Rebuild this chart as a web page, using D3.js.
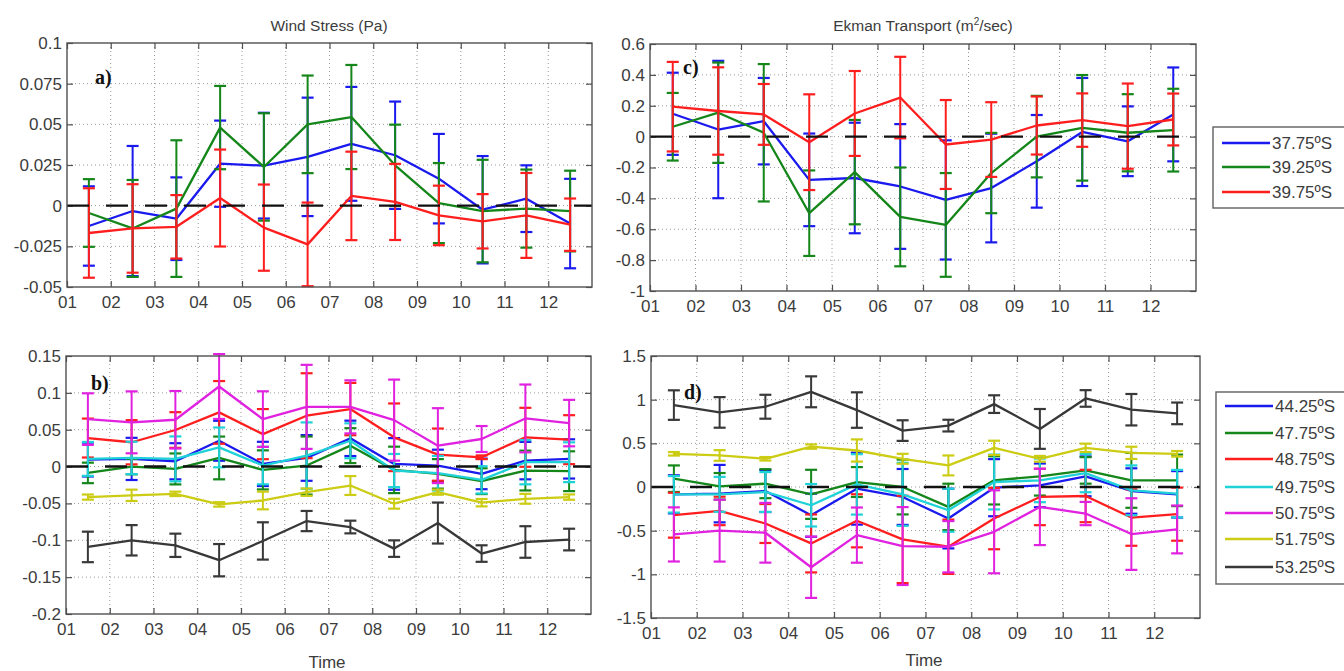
<!DOCTYPE html>
<html><head><meta charset="utf-8">
<script src="https://cdn.jsdelivr.net/npm/d3@7/dist/d3.min.js"></script>
<style>
body{margin:0;background:#fff;}
text{font-family:"Liberation Sans",Arial,sans-serif;fill:#3c3c3c;}
</style>
</head><body>
<svg id="chart" width="1344" height="671"></svg>
<script>
// ---------------- DATA ----------------
const months = ["01","02","03","04","05","06","07","08","09","10","11","12"];
const monthMid = [1.5,2.5,3.5,4.5,5.5,6.5,7.5,8.5,9.5,10.5,11.5,12.5];

const latTop = ["37.75ºS","39.25ºS","39.75ºS"];
const latBottom = ["44.25ºS","47.75ºS","48.75ºS","49.75ºS","50.75ºS","51.75ºS","53.25ºS"];

const colorsTop = ["#1a1aee","#14861a","#ff1e1e"];
const colorsBottom = ["#1a1aee","#14861a","#ff1e1e","#1ed2d8","#e022e0","#cccc14","#383838"];

// a) Wind stress (Pa), northern latitudes
const ws3775 = [-0.0125,-0.0033,-0.008,0.0258,0.0246,0.030,0.038,0.031,0.0166,-0.0025,0.0043,-0.011];
const ws3775Err = [0.0244,0.040,0.0254,0.0265,0.0325,0.0364,0.035,0.033,0.0275,0.033,0.0205,0.0275];
const ws3925 = [-0.0045,-0.014,-0.0018,0.048,0.0238,0.050,0.0545,0.0248,0.0016,-0.0033,-0.0018,-0.0033];
const ws3925Err = [0.0208,0.0298,0.042,0.0256,0.033,0.030,0.032,0.025,0.0246,0.0315,0.024,0.0248];
const ws3975 = [-0.0168,-0.014,-0.013,0.0047,-0.0135,-0.0238,0.006,0.0023,-0.006,-0.0096,-0.006,-0.0117];
const ws3975Err = [0.0275,0.0272,0.0195,0.0298,0.0265,0.0257,0.0272,0.0234,0.0183,0.0167,0.0261,0.0161];

// c) Ekman transport (m2/sec), northern latitudes
const ek3775 = [0.148,0.046,0.10,-0.28,-0.268,-0.323,-0.41,-0.333,-0.16,0.03,-0.03,0.144];
const ek3775Err = [0.266,0.445,0.28,0.30,0.358,0.404,0.386,0.352,0.30,0.35,0.226,0.304];
const ek3925 = [0.064,0.155,0.025,-0.496,-0.23,-0.52,-0.572,-0.236,0.0,0.057,0.025,0.042];
const ek3925Err = [0.219,0.325,0.445,0.277,0.338,0.32,0.336,0.26,0.264,0.342,0.25,0.268];
const ek3975 = [0.194,0.166,0.144,-0.036,0.15,0.253,-0.051,-0.019,0.072,0.107,0.068,0.111];
const ek3975Err = [0.29,0.283,0.197,0.31,0.275,0.264,0.288,0.242,0.188,0.173,0.276,0.168];

// b) Wind stress (Pa), southern latitudes
const ws4425 = [0.0095,0.0104,0.0072,0.035,0.0036,0.0117,0.0383,0.0036,0.0014,-0.0099,0.0081,0.0104];
const ws4425Err = [0.023,0.0286,0.0245,0.0271,0.030,0.031,0.024,0.035,0.0215,0.0208,0.0254,0.0266];
const ws4775 = [-0.0086,0.0,-0.0032,0.0117,-0.0045,0.0014,0.0284,-0.0045,-0.0099,-0.0198,-0.0054,-0.0063];
const ws4775Err = [0.0139,0.0105,0.021,0.029,0.0265,0.0394,0.0237,0.0315,0.020,0.0175,0.027,0.027];
const ws4875 = [0.0387,0.033,0.0496,0.0735,0.044,0.069,0.078,0.0397,0.0162,0.0126,0.0397,0.0365];
const ws4875Err = [0.0264,0.030,0.0242,0.0425,0.034,0.0576,0.0355,0.0459,0.0354,0.0025,0.040,0.0332];
const ws4975 = [0.0104,0.0117,0.0104,0.026,0.0014,0.0149,0.035,-0.0054,-0.009,-0.018,0.0059,0.0059];
const ws4975Err = [0.023,0.022,0.0305,0.027,0.0255,0.045,0.0237,0.0225,0.0234,0.0185,0.030,0.027];
const ws5075 = [0.0644,0.060,0.0635,0.1086,0.0644,0.081,0.081,0.063,0.0284,0.0374,0.0653,0.059];
const ws5075Err = [0.035,0.042,0.039,0.044,0.0377,0.057,0.036,0.055,0.0508,0.0176,0.046,0.0315];
const ws5175 = [-0.0414,-0.039,-0.037,-0.0513,-0.046,-0.0347,-0.0257,-0.0504,-0.0347,-0.049,-0.0437,-0.0414];
const ws5175Err = [0.0035,0.0077,0.003,0.003,0.012,0.005,0.0128,0.0067,0.0035,0.005,0.0067,0.0036];
const ws5325 = [-0.109,-0.100,-0.1068,-0.127,-0.1009,-0.0739,-0.082,-0.1113,-0.0766,-0.118,-0.1023,-0.099];
const ws5325Err = [0.0207,0.0206,0.0158,0.0219,0.0253,0.0137,0.0086,0.0112,0.0278,0.0112,0.0214,0.0147];

// d) Ekman transport (m2/sec), southern latitudes
const ek4425 = [-0.084,-0.076,-0.046,-0.323,-0.019,-0.114,-0.361,-0.008,0.019,0.122,-0.046,-0.084];
const ek4425Err = [0.218,0.329,0.241,0.247,0.412,0.32,0.342,0.327,0.25,0.228,0.26,0.266];
const ek4775 = [0.095,0.008,0.038,-0.084,0.057,0.0,-0.228,0.076,0.122,0.19,0.076,0.076];
const ek4775Err = [0.152,0.152,0.166,0.281,0.171,0.314,0.266,0.276,0.22,0.152,0.314,0.295];
const ek4875 = [-0.323,-0.274,-0.418,-0.646,-0.387,-0.60,-0.684,-0.361,-0.114,-0.103,-0.35,-0.311];
const ek4875Err = [0.257,0.163,0.223,0.332,0.304,0.50,0.311,0.352,0.323,0.30,0.323,0.304];
const ek4975 = [-0.084,-0.084,-0.057,-0.209,0.03,-0.084,-0.266,0.057,0.076,0.159,-0.038,-0.076];
const ek4975Err = [0.209,0.20,0.228,0.243,0.346,0.361,0.247,0.314,0.25,0.219,0.285,0.272];
const ek5075 = [-0.543,-0.50,-0.524,-0.919,-0.551,-0.676,-0.684,-0.513,-0.228,-0.304,-0.539,-0.486];
const ek5075Err = [0.31,0.354,0.342,0.351,0.316,0.446,0.294,0.475,0.437,0.133,0.41,0.274];
const ek5175 = [0.38,0.361,0.323,0.463,0.418,0.323,0.247,0.448,0.323,0.448,0.391,0.38];
const ek5175Err = [0.02,0.061,0.02,0.025,0.127,0.057,0.114,0.082,0.033,0.048,0.07,0.032];
const ek5325 = [0.938,0.854,0.919,1.09,0.881,0.646,0.703,0.949,0.665,1.014,0.885,0.843];
const ek5325Err = [0.169,0.175,0.137,0.177,0.203,0.118,0.067,0.101,0.228,0.095,0.18,0.124];

// y ticks
const yTicksA = [-0.05,-0.025,0,0.025,0.05,0.075,0.1];
const yTicksC = [-1,-0.8,-0.6,-0.4,-0.2,0,0.2,0.4,0.6];
const yTicksB = [-0.2,-0.15,-0.1,-0.05,0,0.05,0.1,0.15];
const yTicksD = [-1.5,-1,-0.5,0,0.5,1,1.5];

const titleLeft = "Wind Stress (Pa)";
const xLabel = "Time";

// ---------------- DRAW ----------------
const svg = d3.select("#chart");

function panel(cfg){
  const x = d3.scaleLinear().domain([1,13]).range([cfg.x0,cfg.x1]);
  const y = d3.scaleLinear().domain([cfg.yTicks[0], cfg.yTicks[cfg.yTicks.length-1]]).range([cfg.y1,cfg.y0]);
  const g = svg.append("g");
  const xTickVals = d3.range(1,13);

  // grid
  g.selectAll(".gx").data(xTickVals.slice(1)).enter().append("line")
    .attr("x1",d=>x(d)).attr("x2",d=>x(d)).attr("y1",cfg.y0).attr("y2",cfg.y1)
    .attr("stroke","#9a9a9a").attr("stroke-width",1).attr("stroke-dasharray","1,3");
  g.selectAll(".gy").data(cfg.yTicks.slice(1,-1)).enter().append("line")
    .attr("x1",cfg.x0).attr("x2",cfg.x1).attr("y1",d=>y(d)).attr("y2",d=>y(d))
    .attr("stroke","#9a9a9a").attr("stroke-width",1).attr("stroke-dasharray","1,3");

  // axes via d3 axis (labels), ticks drawn inward
  const xAxis = d3.axisBottom(x).tickValues(xTickVals).tickFormat((d,i)=>months[i]).tickSize(-6).tickPadding(9);
  const ax = g.append("g").attr("transform",`translate(0,${cfg.y1})`).call(xAxis);
  const xTop = d3.axisTop(x).tickValues(xTickVals).tickFormat("").tickSize(-6);
  const axt = g.append("g").attr("transform",`translate(0,${cfg.y0})`).call(xTop);
  const yAxis = d3.axisLeft(y).tickValues(cfg.yTicks).tickFormat(d=>String(d)).tickSize(-6).tickPadding(5);
  const ay = g.append("g").attr("transform",`translate(${cfg.x0},0)`).call(yAxis);
  const yRight = d3.axisRight(y).tickValues(cfg.yTicks).tickFormat("").tickSize(-6);
  const ayr = g.append("g").attr("transform",`translate(${cfg.x1},0)`).call(yRight);
  [ax,axt,ay,ayr].forEach(a=>{
    a.select(".domain").remove();
    a.selectAll(".tick line").attr("stroke","#505050").attr("stroke-width",1.2);
    a.selectAll(".tick text").attr("font-size","17px").attr("fill","#404040")
      .attr("font-family","'Liberation Sans',Arial,sans-serif");
  });

  // series
  cfg.series.forEach((s,si)=>{
    const col = cfg.colors[si];
    const sg = g.append("g");
    s.mean.forEach((m,i)=>{
      const cx = x(monthMid[i]);
      const e = s.err[i];
      sg.append("line").attr("x1",cx).attr("x2",cx).attr("y1",y(m-e)).attr("y2",y(m+e))
        .attr("stroke",col).attr("stroke-width",2);
      [m-e,m+e].forEach(v=>{
        sg.append("line").attr("x1",cx-6).attr("x2",cx+6).attr("y1",y(v)).attr("y2",y(v))
          .attr("stroke",col).attr("stroke-width",2.2);
      });
    });
    const line = d3.line().x((d,i)=>x(monthMid[i])).y(d=>y(d));
    sg.append("path").datum(s.mean).attr("d",line).attr("fill","none")
      .attr("stroke",col).attr("stroke-width",2.3).attr("stroke-linejoin","round");
  });

  // zero dashed line
  g.append("line").attr("x1",cfg.x0).attr("x2",cfg.x1).attr("y1",y(0)).attr("y2",y(0))
    .attr("stroke","#111").attr("stroke-width",2.4).attr("stroke-dasharray","22,17");

  // box
  g.append("rect").attr("x",cfg.x0).attr("y",cfg.y0).attr("width",cfg.x1-cfg.x0).attr("height",cfg.y1-cfg.y0)
    .attr("fill","none").attr("stroke","#505050").attr("stroke-width",1.4);

  // panel letter
  g.append("text").attr("x",cfg.x0+cfg.lx).attr("y",cfg.y0+cfg.ly).text(cfg.letter)
    .style("font-family","'Liberation Serif','Times New Roman',serif").style("font-weight","bold")
    .style("font-size","20px").style("fill","#111");
  return {x,y};
}

panel({x0:67,x1:592,y0:43,y1:287,yTicks:yTicksA,colors:colorsTop,letter:"a)",lx:28,ly:41,
  series:[{mean:ws3775,err:ws3775Err},{mean:ws3925,err:ws3925Err},{mean:ws3975,err:ws3975Err}]});
panel({x0:650,x1:1196,y0:44,y1:291,yTicks:yTicksC,colors:colorsTop,letter:"c)",lx:33,ly:30,
  series:[{mean:ek3775,err:ek3775Err},{mean:ek3925,err:ek3925Err},{mean:ek3975,err:ek3975Err}]});
panel({x0:66,x1:591,y0:356,y1:614,yTicks:yTicksB,colors:colorsBottom,letter:"b)",lx:25,ly:34,
  series:[{mean:ws4425,err:ws4425Err},{mean:ws4775,err:ws4775Err},{mean:ws4875,err:ws4875Err},
          {mean:ws4975,err:ws4975Err},{mean:ws5075,err:ws5075Err},{mean:ws5175,err:ws5175Err},{mean:ws5325,err:ws5325Err}]});
panel({x0:651,x1:1200,y0:356,y1:618,yTicks:yTicksD,colors:colorsBottom,letter:"d)",lx:33,ly:43,
  series:[{mean:ek4425,err:ek4425Err},{mean:ek4775,err:ek4775Err},{mean:ek4875,err:ek4875Err},
          {mean:ek4975,err:ek4975Err},{mean:ek5075,err:ek5075Err},{mean:ek5175,err:ek5175Err},{mean:ek5325,err:ek5325Err}]});

// titles
svg.append("text").attr("x",329).attr("y",31).attr("text-anchor","middle").attr("font-size","15.5px").text(titleLeft);
const tr = svg.append("text").attr("x",923).attr("y",31).attr("text-anchor","middle").attr("font-size","15.5px");
tr.append("tspan").text("Ekman Transport (m");
tr.append("tspan").attr("font-size","10px").attr("dy",-6).text("2");
tr.append("tspan").attr("dy",6).text("/sec)");

svg.append("text").attr("x",327).attr("y",668).attr("text-anchor","middle").attr("font-size","17px").text(xLabel);
svg.append("text").attr("x",924).attr("y",666).attr("text-anchor","middle").attr("font-size","17px").text(xLabel);

// legends
function legend(x0,y0,h,rowY,labels,colors){
  const lg = svg.append("g");
  lg.append("rect").attr("x",x0).attr("y",y0).attr("width",1344-x0+5).attr("height",h)
    .attr("fill","#fff").attr("stroke","#606060").attr("stroke-width",1.4);
  labels.forEach((lab,i)=>{
    const yy = rowY[i];
    lg.append("line").attr("x1",x0+9).attr("x2",x0+57).attr("y1",yy).attr("y2",yy)
      .attr("stroke",colors[i]).attr("stroke-width",2.4);
    lg.append("text").attr("x",x0+59).attr("y",yy+6).attr("font-size","17px").text(lab);
  });
}
legend(1213,127,81,[143,167,192],latTop,colorsTop);
legend(1216,392,192,[406,433,459,487,513,539,567],latBottom,colorsBottom);
</script>
</body></html>
